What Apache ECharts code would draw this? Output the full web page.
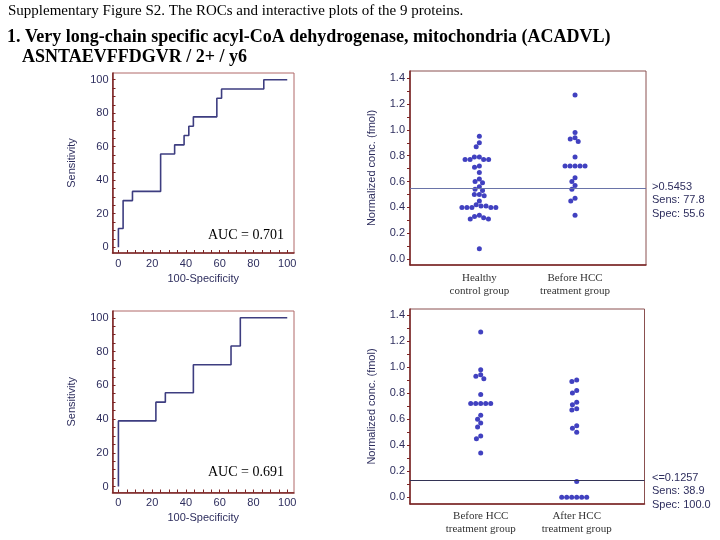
<!DOCTYPE html>
<html>
<head>
<meta charset="utf-8">
<script src="https://cdn.jsdelivr.net/npm/echarts@6/dist/echarts.min.js"></script>
<style>html,body{margin:0;padding:0;background:#fff}#main{width:720px;height:540px}</style>
</head>
<body>
<div id="main"></div>
<script>
// ROC curves: corner points (100-specificity, sensitivity)
var rocTopFpr  = [0, 0, 2.78, 2.78, 8.33, 8.33, 25, 25, 33.3, 33.3, 38.9, 38.9, 41.7, 41.7, 44.4, 44.4, 58.3, 58.3, 61.1, 61.1, 86.1, 86.1, 100];
var rocTopSens = [0, 11.1, 11.1, 27.8, 27.8, 33.3, 33.3, 55.6, 55.6, 61.1, 61.1, 66.7, 66.7, 72.2, 72.2, 77.8, 77.8, 88.9, 88.9, 94.4, 94.4, 100, 100];
var rocBotFpr  = [0, 0, 22.2, 22.2, 27.8, 27.8, 44.4, 44.4, 66.7, 66.7, 72.2, 72.2, 100];
var rocBotSens = [0, 38.9, 38.9, 50, 50, 55.6, 55.6, 72.2, 72.2, 83.3, 83.3, 100, 100];
var rocLabels = [0, 20, 40, 60, 80, 100];
var rocTicks = [0, 5, 10, 15, 20, 25, 30, 35, 40, 45, 50, 55, 60, 65, 70, 75, 80, 85, 90, 95, 100];

// interactive dot plots, normalized conc. (fmol)
var healthy = [0.95, 0.90, 0.87, 0.79, 0.79, 0.77, 0.77, 0.77, 0.77, 0.72, 0.71, 0.67, 0.62, 0.60, 0.59, 0.56,
               0.54, 0.53, 0.50, 0.50, 0.49, 0.45, 0.42, 0.41, 0.41, 0.40, 0.40, 0.40, 0.40, 0.40,
               0.34, 0.33, 0.32, 0.31, 0.31, 0.08];
var beforeHCC = [1.27, 0.98, 0.94, 0.93, 0.91, 0.79, 0.72, 0.72, 0.72, 0.72, 0.72, 0.63, 0.60, 0.57, 0.54, 0.47, 0.45, 0.34];
var afterHCC = [0.90, 0.89, 0.82, 0.80, 0.73, 0.71, 0.68, 0.67, 0.55, 0.53, 0.50, 0.12, 0, 0, 0, 0, 0, 0];
var topGroups = ['Healthy\ncontrol group', 'Before HCC\ntreatment group'];
var botGroups = ['Before HCC\ntreatment group', 'After HCC\ntreatment group'];
var topCut = 0.5453, botCut = 0.1257;
var topCutText = ['>0.5453', 'Sens: 77.8', 'Spec: 55.6'];
var botCutText = ['<=0.1257', 'Sens: 38.9', 'Spec: 100.0'];
var concLabels = [0, 0.2, 0.4, 0.6, 0.8, 1.0, 1.2, 1.4];
var concTicks = [0, 0.1, 0.2, 0.3, 0.4, 0.5, 0.6, 0.7, 0.8, 0.9, 1.0, 1.1, 1.2, 1.3, 1.4];

var frameRed = '#7b2424', txt = '#2e2e5e', dotBlue = '#1212b0';

function rocX(gi) {
    return { gridIndex: gi, type: 'value', min: -3.5, max: 104,
        name: '100-Specificity', nameLocation: 'middle', nameGap: 20,
        nameTextStyle: { color: txt, fontFamily: 'Liberation Sans', fontSize: 11 },
        axisLine: { onZero: false, lineStyle: { color: frameRed, width: 1.5 } },
        axisTick: { inside: true, length: 3, customValues: rocTicks, lineStyle: { color: frameRed } },
        axisLabel: { customValues: rocLabels, margin: 5, color: txt, fontFamily: 'Liberation Sans', fontSize: 11 },
        splitLine: { show: false } };
}
function rocY(gi) {
    return { gridIndex: gi, type: 'value', min: -3.5, max: 104,
        name: 'Sensitivity', nameLocation: 'middle', nameGap: 35,
        nameTextStyle: { color: txt, fontFamily: 'Liberation Sans', fontSize: 11 },
        axisLine: { onZero: false, lineStyle: { color: frameRed, width: 1.5 } },
        axisTick: { inside: true, length: 3, customValues: rocTicks, lineStyle: { color: frameRed } },
        axisLabel: { customValues: rocLabels, margin: 4, color: txt, fontFamily: 'Liberation Sans', fontSize: 11 },
        splitLine: { show: false } };
}
function concY(gi, lo, hi, show) {
    return { gridIndex: gi, type: 'value', min: lo, max: hi, show: show,
        name: 'Normalized conc. (fmol)', nameLocation: 'middle', nameGap: 33,
        nameTextStyle: { color: txt, fontFamily: 'Liberation Sans', fontSize: 11 },
        axisLine: { onZero: false, lineStyle: { color: frameRed, width: 1.5 } },
        axisTick: { length: 3, customValues: concTicks, lineStyle: { color: frameRed } },
        axisLabel: { customValues: concLabels, margin: 5, color: txt, fontFamily: 'Liberation Sans', fontSize: 11,
                     formatter: function (v) { return v.toFixed(1); } },
        splitLine: { show: false } };
}
function frameX(gi) {
    return { gridIndex: gi, type: 'value', min: 0, max: 1, show: true,
        axisLine: { onZero: false, lineStyle: { color: frameRed, width: 1.5 } },
        axisTick: { show: false }, axisLabel: { show: false }, splitLine: { show: false } };
}
function groupX(gi, cats, margin) {
    return { gridIndex: gi, type: 'category', data: cats,
        jitter: 60, jitterOverlap: false, jitterMargin: 0,
        axisLine: { show: false },
        axisTick: { alignWithLabel: true, length: 3, lineStyle: { color: frameRed } },
        axisLabel: { margin: margin, color: '#333', fontFamily: 'Liberation Serif', fontSize: 11, lineHeight: 13 },
        splitLine: { show: false } };
}
function zip(xs, ys) { return xs.map(function (x, i) { return [x, ys[i]]; }); }
function dots(vals, c) { return vals.map(function (v) { return [c, v]; }); }
function cutLine(gi, y, color) {
    return { type: 'scatter', xAxisIndex: gi, yAxisIndex: gi, data: [], silent: true,
        markLine: { symbol: 'none', silent: true, label: { show: false },
            lineStyle: { color: color, width: 1.2, type: 'solid' }, data: [{ yAxis: y }] } };
}
function textLines(x, y0, lines) {
    return lines.map(function (s, i) {
        return { type: 'text', left: x, top: y0 + i * 13.5,
            style: { text: s, fill: txt, font: '11px "Liberation Sans"' } };
    });
}
function rocLine(gi, data) {
    return { type: 'line', xAxisIndex: gi, yAxisIndex: gi, data: data, showSymbol: false, clip: true,
        lineStyle: { color: '#3d3d80', width: 1.6 } };
}
function dotSeries(gi, data) {
    return { type: 'scatter', xAxisIndex: gi, yAxisIndex: gi, data: data,
        symbolSize: 5, itemStyle: { color: dotBlue } };
}

var myChart = echarts.init(document.getElementById('main'));
var option = {
    animation: false,
    grid: [
        { left: 112.5, top: 73, width: 181.5, height: 180, show: true, borderColor: '#b06868', borderWidth: 1 },
        { left: 112.5, top: 311, width: 181.5, height: 181.5, show: true, borderColor: '#b06868', borderWidth: 1 },
        { left: 410, top: 71, width: 236, height: 194, show: true, borderColor: '#8a5050', borderWidth: 1 },
        { left: 431.5, top: 71, width: 191.4, height: 194 },
        { left: 410, top: 309, width: 234.5, height: 195, show: true, borderColor: '#8a5050', borderWidth: 1 },
        { left: 432.7, top: 309, width: 192, height: 195 }
    ],
    xAxis: [rocX(0), rocX(1), frameX(2), groupX(3, topGroups, 7), frameX(4), groupX(5, botGroups, 6)],
    yAxis: [rocY(0), rocY(1),
            concY(2, -0.046, 1.456, true), concY(3, -0.046, 1.456, false),
            concY(4, -0.052, 1.446, true), concY(5, -0.052, 1.446, false)],
    series: [
        rocLine(0, zip(rocTopFpr, rocTopSens)),
        rocLine(1, zip(rocBotFpr, rocBotSens)),
        cutLine(2, topCut, '#6a74a8'),
        cutLine(4, botCut, '#333355'),
        dotSeries(3, dots(healthy, 0)),
        dotSeries(3, dots(beforeHCC, 1)),
        dotSeries(5, dots(beforeHCC, 0)),
        dotSeries(5, dots(afterHCC, 1))
    ],
    graphic: [
        { type: 'text', left: 8, top: 4, style: { text: 'Supplementary Figure S2. The ROCs and interactive plots of the 9 proteins.',
            fill: '#000', font: '15px "Liberation Serif"' } },
        { type: 'text', left: 7, top: 28, style: { text: '1. Very long-chain specific acyl-CoA dehydrogenase, mitochondria (ACADVL)',
            fill: '#000', font: 'bold 18px "Liberation Serif"' } },
        { type: 'text', left: 22, top: 48, style: { text: 'ASNTAEVFFDGVR / 2+ / y6',
            fill: '#000', font: 'bold 18px "Liberation Serif"' } },
        { type: 'text', left: 208, top: 228, style: { text: 'AUC = 0.701', fill: '#000', font: '14px "Liberation Serif"' } },
        { type: 'text', left: 208, top: 465, style: { text: 'AUC = 0.691', fill: '#000', font: '14px "Liberation Serif"' } }
    ].concat(textLines(652, 181, topCutText), textLines(652, 472, botCutText))
};
myChart.setOption(option);
window.addEventListener('resize', function () { myChart.resize(); });
</script>
</body>
</html>
